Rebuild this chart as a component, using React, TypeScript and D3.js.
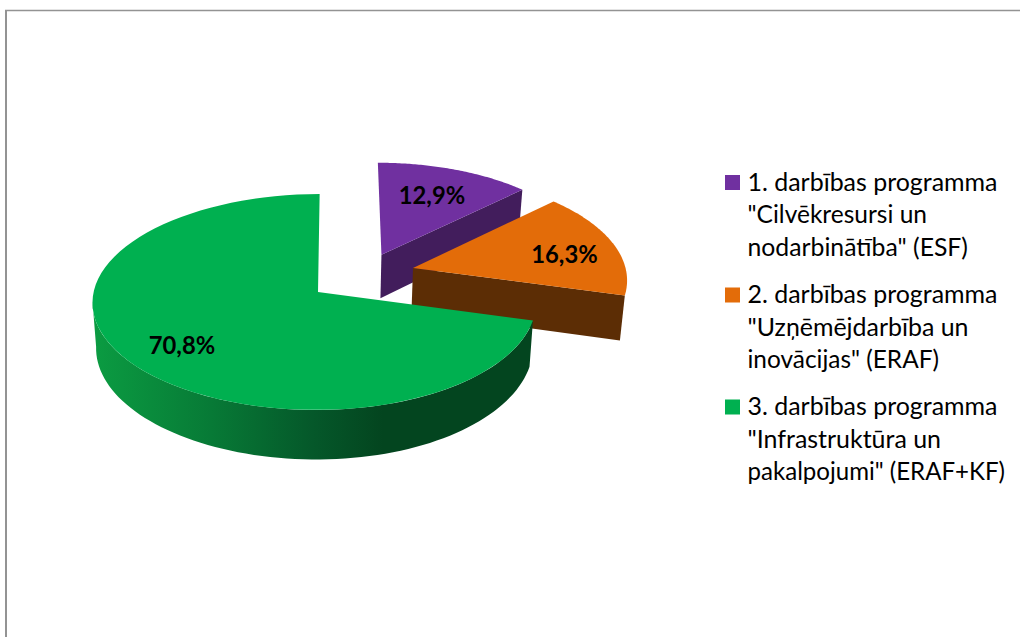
import React from "react";
import * as d3 from "d3";

const values = [12.9, 16.3, 70.8];
const topColors = ["#7030a0", "#e36c09", "#00b050"];
const wallColors = ["#421d5c", "#5c2d05", "#03451f"];
const explodeU = [0.295, 0.44, 0];
const explodeW = [-0.36, -0.229, 0];
const labelAnchors = [[432, 204], [564.5, 263], [182, 354]];
const legendLines = [
  ['1. darbības programma', '"Cilvēkresursi un', 'nodarbinātība" (ESF)'],
  ['2. darbības programma', '"Uzņēmējdarbība un', 'inovācijas" (ERAF)'],
  ['3. darbības programma', '"Infrastruktūra un', 'pakalpojumi" (ERAF+KF)'],
];
const legendLineWidths = [
  [250, 179.5, 220.5],
  [250, 221, 191.5],
  [250, 193.5, 257.5],
];
const legendBaselines = [190.5, 303, 415];
const rimStops: [number, string][] = [
  [0, "#0b9c42"], [0.27, "#077a36"], [0.5, "#05582a"], [0.66, "#03451f"], [1, "#03451f"],
];

const FONT = "Lato, Carlito, Calibri, sans-serif";
const CX = 318, CY = 292, A = 221, B = 107, KW = 0.0926, MU = 0.015, H = 45, SKEW = 1.8;

type Pt = [number, number];
function project(u: number, w: number, z = 0): Pt {
  const d = 1 - KW * w;
  const dx = d + MU * Math.min(u, 1);
  const x = CX + (A * u) / dx - (SKEW * w) / d;
  const y = CY + (B * w) / d;
  if (!z) return [x, y];
  return [x + (CX - x) * 0.016, y + H / d];
}
const rimPoint = (i: number, a: number, z = 0) =>
  project(explodeU[i] + Math.sin(a), explodeW[i] - Math.cos(a), z);
const apex = (i: number, z = 0) => project(explodeU[i], explodeW[i], z);
const line = d3.line<Pt>().x((d) => d[0]).y((d) => d[1]);
const sweep = (a0: number, a1: number) =>
  d3.range(0, 81).map((k) => d3.scaleLinear().domain([0, 80]).range([a0, a1])(k));

export default function App() {
  const arcs = d3.pie<number>().sort(null)(values);
  const walls = arcs.slice(0, 2).map((arc, i) => {
    const e = arc.endAngle;
    return { i, d: line([apex(i), rimPoint(i, e), rimPoint(i, e, 1), apex(i, 1)]) + "Z" };
  });
  const faces = arcs.map((arc, i) => ({
    i,
    d: line([apex(i), ...sweep(arc.startAngle, arc.endAngle).map((a) => rimPoint(i, a))]) + "Z",
  }));
  const g = arcs[2];
  const silhouette = sweep(g.startAngle, Math.PI * 1.472);
  const rim =
    line([
      ...silhouette.map((a) => rimPoint(2, a)),
      ...silhouette.slice().reverse().map((a) => rimPoint(2, a, 1)),
    ]) + "Z";
  const fmt = d3.format(".1f");

  return (
    <svg
      width={1020}
      height={637}
      style={{ position: "absolute", left: 0, top: 0, display: "block", background: "#fff" }}
    >
      <defs>
        <linearGradient id="rim" gradientUnits="userSpaceOnUse" x1={92} x2={533} y1={0} y2={0}>
          {rimStops.map(([o, c]) => (
            <stop key={o} offset={o} stopColor={c} />
          ))}
        </linearGradient>
      </defs>
      <line x1={5} x2={1020} y1={10.5} y2={10.5} stroke="#939393" strokeWidth={1.5} />
      <line x1={6} x2={6} y1={10} y2={637} stroke="#939393" strokeWidth={2} />

      <path d={walls[0].d} fill={wallColors[0]} />
      <path d={faces[0].d} fill={topColors[0]} />
      <path d={walls[1].d} fill={wallColors[1]} />
      <path d={faces[1].d} fill={topColors[1]} />
      <path d={rim} fill="url(#rim)" />
      <path d={faces[2].d} fill={topColors[2]} />

      {values.map((v, i) => (
        <text
          key={i}
          x={labelAnchors[i][0]}
          y={labelAnchors[i][1]}
          textAnchor="middle"
          fontFamily={FONT}
          fontWeight={700}
          fontSize={23.8}
          fill="#000"
        >
          {fmt(v).replace(".", ",") + "%"}
        </text>
      ))}

      {legendLines.map((lines, i) => (
        <g key={i}>
          <rect x={725} y={legendBaselines[i] - 15.5} width={15} height={15} fill={topColors[i]} />
          {lines.map((t, j) => (
            <text
              key={j}
              x={747.5}
              y={legendBaselines[i] + j * 32.7}
              fontFamily={FONT}
              fontSize={25}
              textLength={legendLineWidths[i][j]}
              lengthAdjust="spacingAndGlyphs"
              fill="#000"
            >
              {t}
            </text>
          ))}
        </g>
      ))}
    </svg>
  );
}
